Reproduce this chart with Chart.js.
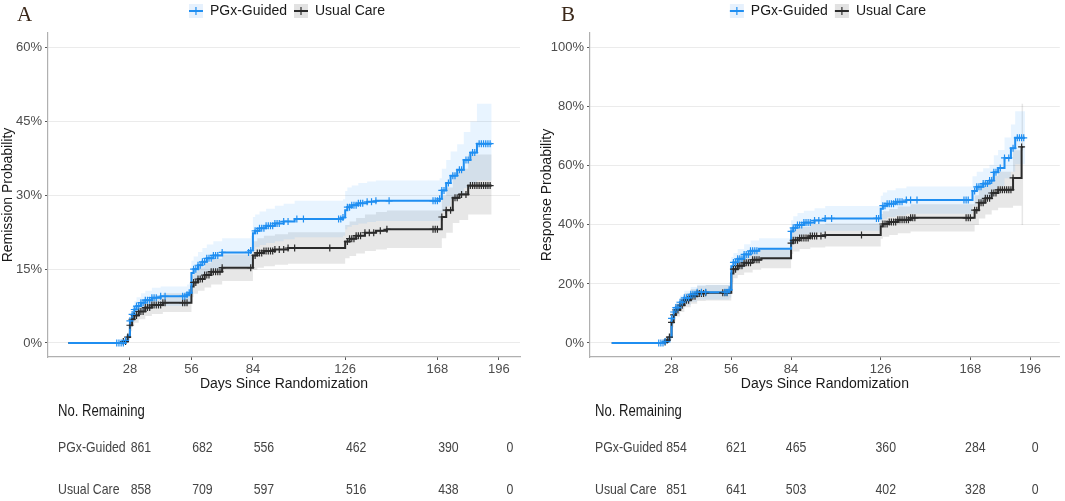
<!DOCTYPE html>
<html>
<head>
<meta charset="utf-8">
<script src="https://cdn.jsdelivr.net/npm/chart.js@4.4.1/dist/chart.umd.min.js"></script>
<style>
  html, body { margin: 0; padding: 0; background: #fff; }
  #wrap { position: relative; width: 1065px; height: 501px; overflow: hidden; }
  .panel { position: absolute; top: 0; height: 501px; }
  #panelA { left: 0; width: 532px; }
  #panelB { left: 532px; width: 533px; }
</style>
</head>
<body>
<div id="wrap">
  <div class="panel" id="panelA"><canvas id="chartA"></canvas></div>
  <div class="panel" id="panelB"><canvas id="chartB"></canvas></div>
</div>
<script>
// shared
const dayTicks = [28, 56, 84, 126, 168, 196];
const groupNames = ['PGx-Guided', 'Usual Care'];

// Panel A - remission
const remTicks = [0, 15, 30, 45, 60];
const remPgxDays = [0, 26, 27, 28, 29, 30, 31, 33, 35, 38, 42, 54, 55, 56, 57, 59, 61, 63, 66, 70, 83, 84, 85, 87, 90, 94, 98, 103, 125, 126, 127, 129, 132, 136, 140, 169, 170, 172, 174, 177, 180, 183, 186, 192.7];
const remPgxProb = [0, 0.5, 1.5, 4.5, 5.8, 6.8, 7.5, 8.2, 8.7, 9.2, 9.5, 9.8, 10.2, 14.2, 15.0, 15.8, 16.5, 17.2, 17.8, 18.4, 18.8, 22.3, 22.8, 23.3, 23.8, 24.3, 24.7, 25.2, 25.5, 27.0, 27.6, 28.0, 28.4, 28.7, 28.9, 29.3, 31.0, 32.5, 34.0, 35.2, 37.2, 38.7, 40.5, 40.5];
const remPgxLow  = [0, 0, 0.7, 3.1, 4.2, 5.1, 5.7, 6.3, 6.8, 7.2, 7.5, 7.7, 8.1, 11.7, 12.4, 13.1, 13.7, 14.4, 14.9, 15.5, 15.8, 19.0, 19.5, 19.9, 20.3, 20.7, 21.1, 21.5, 21.8, 23.1, 23.6, 24.0, 24.3, 24.6, 24.8, 25.1, 26.6, 27.8, 29.1, 30.0, 31.5, 32.4, 33.0, 33.0];
const remPgxHigh = [0, 1.0, 2.3, 5.9, 7.4, 8.5, 9.3, 10.1, 10.6, 11.2, 11.5, 11.9, 12.3, 16.7, 17.6, 18.5, 19.3, 20.0, 20.7, 21.3, 21.8, 25.6, 26.1, 26.7, 27.3, 27.9, 28.3, 28.9, 29.2, 30.9, 31.6, 32.0, 32.5, 32.8, 33.0, 33.5, 35.4, 37.2, 38.9, 40.4, 42.9, 45.0, 48.6, 48.6];
const remPgxCensor = [22, 23, 24, 25, 26, 28, 29, 30, 31, 32, 33, 34, 35, 36, 37, 38, 39, 40, 42, 44, 52, 53, 54, 55, 57, 58, 59, 60, 61, 62, 63, 64, 65, 66, 67, 68, 70, 82, 83, 85, 86, 87, 88, 89, 90, 91, 92, 93, 94, 95, 96, 98, 100, 104, 107, 123, 124, 125, 127, 128, 129, 130, 131, 132, 133, 134, 136, 138, 140, 146, 166, 167, 168, 169, 170, 171, 173, 175, 176, 178, 179, 181, 182, 184, 185, 187, 188, 189, 190, 191, 192];

const remUcDays = [0, 25, 27, 28, 29, 30, 32, 35, 38, 43, 56, 57, 59, 62, 65, 70, 84, 86, 89, 94, 100, 126, 128, 131, 135, 140, 145, 170, 172, 175, 178, 182, 192.7];
const remUcProb = [0, 0.3, 1.2, 3.6, 4.8, 5.6, 6.4, 7.2, 7.7, 8.2, 11.5, 12.3, 13.0, 13.8, 14.5, 15.3, 17.8, 18.3, 18.7, 19.0, 19.3, 20.6, 21.2, 21.8, 22.4, 22.8, 23.1, 25.6, 27.0, 29.5, 30.2, 32.0, 32.0];
const remUcLow  = [0, 0, 0.5, 2.4, 3.4, 4.1, 4.8, 5.5, 5.9, 6.3, 9.3, 10.0, 10.6, 11.3, 11.9, 12.6, 14.9, 15.3, 15.6, 15.9, 16.1, 17.2, 17.7, 18.2, 18.7, 19.0, 19.3, 21.3, 22.4, 24.4, 25.0, 26.1, 26.1];
const remUcHigh = [0, 0.7, 1.9, 4.8, 6.2, 7.1, 8.0, 8.9, 9.5, 10.1, 13.7, 14.6, 15.4, 16.3, 17.1, 18.0, 20.7, 21.3, 21.8, 22.1, 22.5, 24.0, 24.7, 25.4, 26.1, 26.6, 26.9, 29.9, 31.6, 34.6, 35.4, 38.3, 38.3];
const remUcCensor = [25, 26, 27, 28, 29, 30, 31, 32, 33, 34, 35, 36, 37, 38, 39, 40, 41, 42, 43, 44, 52, 53, 54, 57, 58, 59, 60, 61, 62, 63, 64, 65, 66, 67, 68, 69, 70, 83, 85, 86, 87, 88, 89, 90, 91, 92, 93, 94, 96, 98, 100, 103, 119, 127, 128, 129, 130, 131, 132, 133, 135, 137, 139, 142, 145, 166, 167, 168, 170, 172, 174, 176, 177, 179, 181, 183, 184, 185, 186, 187, 188, 189, 190, 191, 192];

const remRiskPgx = [861, 682, 556, 462, 390, 0];
const remRiskUc = [858, 709, 597, 516, 438, 0];

// Panel B - response
const respTicks = [0, 20, 40, 60, 80, 100];
const respPgxDays = [0, 25, 27, 28, 29, 30, 32, 34, 37, 40, 55, 56, 57, 59, 62, 65, 69, 84, 85, 87, 90, 95, 100, 126, 127, 129, 133, 138, 169, 171, 174, 177, 179, 181, 184, 187, 189, 193.6];
const respPgxProb = [0, 0.5, 2, 8.3, 10.5, 12.0, 13.8, 15.3, 16.5, 17.2, 18.0, 26.0, 27.3, 28.5, 30.0, 31.2, 31.9, 37.8, 39.0, 40.0, 40.8, 41.5, 42.2, 45.5, 46.5, 47.2, 47.8, 48.4, 51.5, 52.9, 54.0, 55.0, 57.8, 59.3, 62.7, 66.0, 69.5, 69.5];
const respPgxLow  = [0, 0, 1.0, 6.4, 8.4, 9.8, 11.5, 12.9, 14.0, 14.7, 15.4, 22.9, 24.1, 25.2, 26.6, 27.7, 28.3, 34.0, 35.1, 36.0, 36.8, 37.4, 38.0, 41.1, 42.0, 42.7, 43.2, 43.8, 46.5, 47.8, 48.8, 49.6, 52.0, 53.2, 55.8, 58.0, 60.5, 60.5];
const respPgxHigh = [0, 1.0, 3.0, 10.2, 12.6, 14.2, 16.1, 17.7, 19.0, 19.7, 20.6, 29.1, 30.5, 31.8, 33.4, 34.7, 35.5, 41.6, 42.9, 44.0, 44.8, 45.6, 46.4, 49.9, 51.0, 51.7, 52.4, 53.0, 56.5, 58.0, 59.2, 60.4, 63.6, 65.4, 69.6, 74.0, 78.5, 78.5];
const respPgxCensor = [22, 23, 24, 25, 28, 29, 30, 31, 32, 33, 34, 35, 36, 37, 38, 39, 40, 42, 44, 53, 54, 55, 57, 58, 59, 60, 61, 62, 63, 64, 65, 66, 67, 68, 84, 85, 86, 87, 88, 89, 90, 91, 92, 93, 95, 97, 100, 103, 124, 125, 127, 128, 129, 130, 131, 132, 133, 134, 135, 136, 138, 140, 143, 165, 166, 167, 170, 171, 172, 173, 174, 175, 176, 177, 178, 179, 180, 182, 184, 186, 188, 190, 191, 192, 193];

const respUcDays = [0, 24, 26, 27, 28, 29, 30, 32, 34, 37, 40, 44, 56, 57, 59, 62, 66, 70, 84, 85, 88, 93, 100, 126, 127, 130, 134, 140, 170, 172, 175, 178, 181, 188, 192, 192.8];
const respUcProb = [0, 0.3, 1.0, 2.0, 7.0, 9.5, 11.2, 12.8, 14.5, 15.8, 16.8, 17.0, 23.5, 25.0, 26.2, 27.2, 28.2, 28.7, 33.8, 34.8, 35.6, 36.2, 36.6, 39.5, 40.3, 41.0, 41.7, 42.4, 45.0, 47.5, 49.0, 50.8, 51.9, 55.9, 66.4, 66.4];
const respUcLow  = [0, 0, 0.3, 1.0, 5.3, 7.5, 9.0, 10.5, 12.1, 13.3, 14.2, 14.4, 20.5, 21.9, 23.0, 23.9, 24.8, 25.3, 30.1, 31.0, 31.8, 32.3, 32.7, 35.3, 36.0, 36.6, 37.2, 37.8, 40.0, 42.2, 43.5, 45.0, 45.8, 46.5, 40.0, 40.0];
const respUcHigh = [0, 0.7, 1.7, 3.0, 8.7, 11.5, 13.4, 15.1, 16.9, 18.3, 19.4, 19.6, 26.5, 28.1, 29.4, 30.5, 31.6, 32.1, 37.5, 38.6, 39.4, 40.1, 40.5, 43.7, 44.6, 45.4, 46.2, 47.0, 50.0, 52.8, 54.5, 56.6, 58.0, 65.3, 81.0, 81.0];
const respUcCensor = [25, 26, 27, 28, 29, 30, 31, 32, 33, 34, 35, 36, 37, 38, 39, 40, 41, 42, 43, 44, 52, 53, 54, 57, 58, 59, 60, 61, 62, 63, 64, 65, 66, 67, 68, 69, 84, 85, 86, 87, 88, 89, 90, 91, 92, 93, 94, 95, 96, 98, 100, 117, 127, 128, 129, 130, 131, 132, 133, 134, 135, 136, 137, 138, 139, 140, 141, 142, 166, 167, 168, 170, 171, 172, 173, 174, 175, 176, 177, 178, 179, 180, 181, 182, 183, 184, 185, 186, 187, 188, 192];

const respRiskPgx = [854, 621, 465, 360, 284, 0];
const respRiskUc = [851, 641, 503, 402, 328, 0];

const BLUE = '#1f8ef1';
const BLACK = '#2b2b2b';
const BLUE_BAND = 'rgba(30,144,255,0.10)';
const GREY_BAND = 'rgba(60,60,60,0.12)';
const SANS = '"Liberation Sans", Arial, sans-serif';

// value of a step curve at day t
function stepAt(days, prob, t) {
    let v = prob[0];
    for (let i = 0; i < days.length; i++) {
        if (days[i] <= t) v = prob[i];
    }
    return v;
}

function kmDatasets(label, color, band, days, prob, low, high, censor) {
    const pts = ys => days.map((d, i) => ({ x: d, y: ys[i] }));
    return [
        { label, data: pts(prob), borderColor: color, borderWidth: 2, stepped: true,
          pointRadius: 0, fill: false, order: 1, keyFill: band },
        { label: label + ' censored', data: censor.map(d => ({ x: d, y: stepAt(days, prob, d) })),
          showLine: false, pointStyle: 'cross', pointRadius: 3.5, pointBorderColor: color,
          pointBorderWidth: 1.2, order: 0 },
        { label: label + ' upper', data: pts(high), borderColor: 'transparent', borderWidth: 0, stepped: true,
          pointRadius: 0, fill: '+1', backgroundColor: band, order: 5 },
        { label: label + ' lower', data: pts(low), borderColor: 'transparent', borderWidth: 0, stepped: true,
          pointRadius: 0, fill: false, order: 5 }
    ];
}

// ggplot-like legend above the plot
const kmLegend = {
    id: 'kmLegend',
    afterDraw(chart, args, opts) {
        const ctx = chart.ctx;
        const items = chart.data.datasets.filter(d => d.keyFill);
        ctx.save();
        ctx.font = '14px ' + SANS;
        const key = 14, gap = 7, between = 7;
        const widths = items.map(it => key + gap + ctx.measureText(it.label).width);
        const total = widths.reduce((a, b) => a + b, 0) + between * (items.length - 1);
        let x = (chart.chartArea.left + chart.chartArea.right) / 2 + opts.shift - total / 2;
        const y = 11;
        items.forEach((it, i) => {
            ctx.fillStyle = it.keyFill === BLUE_BAND ? '#e6f1fd' : '#e2e2e2';
            ctx.fillRect(x, y - key / 2, key, key);
            ctx.strokeStyle = it.borderColor;
            ctx.lineWidth = 2;
            ctx.beginPath(); ctx.moveTo(x, y); ctx.lineTo(x + key, y); ctx.stroke();
            ctx.lineWidth = 1.2;
            ctx.beginPath(); ctx.moveTo(x + key / 2, y - 4); ctx.lineTo(x + key / 2, y + 4); ctx.stroke();
            ctx.fillStyle = '#1a1a1a';
            ctx.textBaseline = 'middle';
            ctx.textAlign = 'left';
            ctx.fillText(it.label, x + key + gap, y);
            x += widths[i] + between;
        });
        // panel letter
        ctx.font = '21px "Liberation Serif", "Times New Roman", serif';
        ctx.fillStyle = '#3b2819';
        ctx.fillText(opts.letter, opts.letterX, 15);
        ctx.restore();
    }
};

// number-at-risk table under the x axis
const riskTable = {
    id: 'riskTable',
    afterDraw(chart, args, opts) {
        const ctx = chart.ctx;
        const xs = chart.scales.x;
        const narrow = (text, x, y, align, size, color) => {
            ctx.save();
            ctx.font = size + 'px ' + SANS;
            ctx.fillStyle = color;
            ctx.textBaseline = 'middle';
            ctx.textAlign = align;
            ctx.translate(x, y);
            ctx.scale(0.82, 1);
            ctx.fillText(text, 0, 0);
            ctx.restore();
        };
        narrow('No. Remaining', opts.left, 412, 'left', 16, '#1a1a1a');
        opts.rows.forEach((row, r) => {
            const y = [448, 490][r];
            narrow(groupNames[r], opts.left, y, 'left', 15, '#444');
            row.forEach((n, i) => {
                narrow(String(n), xs.getPixelForValue(dayTicks[i]) + opts.shift, y, 'center', 15, '#444');
            });
        });
    }
};

function makePanel(id, p) {
    const tickFont = { family: SANS, size: 13 };
    const titleFont = { family: SANS, size: 14 };
    new Chart(document.getElementById(id), {
        type: 'line',
        data: {
            datasets: [
                ...kmDatasets(groupNames[0], BLUE, BLUE_BAND, p.pgx[0], p.pgx[1], p.pgx[2], p.pgx[3], p.pgx[4]),
                ...kmDatasets(groupNames[1], BLACK, GREY_BAND, p.uc[0], p.uc[1], p.uc[2], p.uc[3], p.uc[4])
            ]
        },
        options: {
            responsive: true,
            maintainAspectRatio: false,
            animation: false,
            events: [],
            layout: { padding: { top: 33, right: p.padRight, bottom: 110, left: 0 } },
            plugins: {
                legend: { display: false },
                tooltip: { enabled: false },
                kmLegend: { letter: p.letter, letterX: p.letterX, shift: 3 },
                riskTable: { rows: p.risk, left: p.tableLeft, shift: p.tableShift }
            },
            scales: {
                x: {
                    type: 'linear', min: p.xMin, max: p.xMax,
                    afterBuildTicks: s => { s.ticks = dayTicks.map(v => ({ value: v })); },
                    afterFit: s => { s.height = 34; },
                    grid: { drawOnChartArea: false, tickLength: 3, tickColor: '#555' },
                    border: { display: true, color: '#b0b0b0', width: 1.2 },
                    ticks: { color: '#4d4d4d', font: tickFont, padding: 2, maxRotation: 0, autoSkip: false },
                    title: { display: true, text: 'Days Since Randomization', color: '#1a1a1a',
                             font: { ...titleFont, lineHeight: 1 }, padding: 0 }
                },
                y: {
                    type: 'linear', min: p.yMin, max: p.yMax,
                    afterBuildTicks: s => { s.ticks = p.yTicks.map(v => ({ value: v })); },
                    afterFit: s => { s.width = p.yWidth; },
                    grid: { color: '#ebebeb', lineWidth: 1, tickLength: 3, tickColor: '#555' },
                    border: { display: true, color: '#b0b0b0', width: 1.2 },
                    ticks: { color: '#4d4d4d', font: tickFont, padding: 3, callback: v => v + '%' },
                    title: { display: true, text: p.yTitle, color: '#1a1a1a', font: titleFont,
                             padding: { top: p.yTitlePad, bottom: 0 } }
                }
            }
        },
        plugins: [kmLegend, riskTable]
    });
}

makePanel('chartA', {
    letter: 'A', letterX: 17,
    yTitle: 'Remission Probability', yTicks: remTicks, yMin: -2.85, yMax: 63.0,
    xMin: -9.3, xMax: 205.6, yWidth: 48, padRight: 12, yTitlePad: 0,
    pgx: [remPgxDays, remPgxProb, remPgxLow, remPgxHigh, remPgxCensor],
    uc: [remUcDays, remUcProb, remUcLow, remUcHigh, remUcCensor],
    risk: [remRiskPgx, remRiskUc], tableLeft: 58, tableShift: 11
});

makePanel('chartB', {
    letter: 'B', letterX: 29,
    yTitle: 'Response Probability', yTicks: respTicks, yMin: -4.75, yMax: 105.0,
    xMin: -10.2, xMax: 209.9, yWidth: 58, padRight: 2, yTitlePad: 7,
    pgx: [respPgxDays, respPgxProb, respPgxLow, respPgxHigh, respPgxCensor],
    uc: [respUcDays, respUcProb, respUcLow, respUcHigh, respUcCensor],
    risk: [respRiskPgx, respRiskUc], tableLeft: 63, tableShift: 5
});
</script>
</body>
</html>
